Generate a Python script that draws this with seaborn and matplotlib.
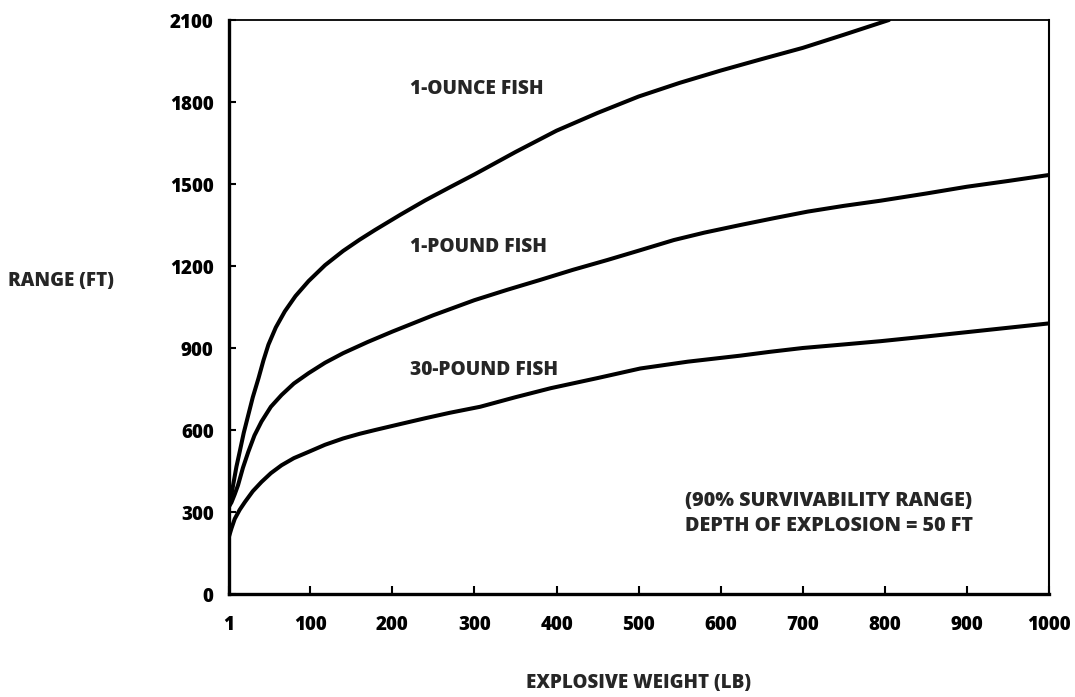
import matplotlib
matplotlib.use("Agg")
import matplotlib.pyplot as plt
import seaborn as sns
import pandas as pd

# ---- data ----
x_ounce = [1, 3, 6, 10, 14, 19, 24.5, 30, 37, 43, 49, 58, 69, 82, 98, 118, 140, 160, 179, 210, 240, 270,
           300, 350, 400, 450, 500, 550, 600, 650, 700, 750, 805]
y_ounce = [320, 345, 398, 465, 520, 590, 655, 720, 790, 855, 912, 975, 1034, 1090, 1145, 1203, 1255, 1296, 1332,
           1388, 1440, 1488, 1535, 1617, 1695, 1760, 1820, 1870, 1915, 1957, 1998, 2046, 2100]

x_pound = [1, 4, 8, 12, 18, 24.5, 32, 40.6, 52, 65, 80, 98, 118, 140, 170, 200, 250, 300, 340, 380, 420,
           462, 500, 543, 580, 624, 665, 706, 750, 795, 850, 900, 950, 1000]
y_pound = [320, 335, 365, 398, 462, 520, 580, 631, 685, 728, 770, 808, 846, 881, 922, 960, 1020, 1075, 1113, 1149,
           1186, 1222, 1256, 1295, 1322, 1350, 1375, 1399, 1420, 1439, 1465, 1490, 1511, 1533]

x_30lb = [1, 4, 8, 14, 20.5, 30, 40.6, 52, 65, 80, 98, 118, 140, 160, 179, 210, 240, 270, 307, 350, 393,
          450, 502, 560, 624, 660, 700, 750, 795, 850, 900, 950, 1000]
y_30lb = [210, 240, 275, 308, 337, 376, 410, 442, 471, 497, 520, 546, 569, 586, 600, 622, 643, 663, 685, 720, 753,
          790, 825, 850, 872, 886, 900, 913, 925, 942, 958, 974, 990]

x_ticks = [1, 100, 200, 300, 400, 500, 600, 700, 800, 900, 1000]
y_ticks = [0, 300, 600, 900, 1200, 1500, 1800, 2100]

series_labels = ["1-OUNCE FISH", "1-POUND FISH", "30-POUND FISH"]
note_lines = ["(90% SURVIVABILITY RANGE)", "DEPTH OF EXPLOSION = 50 FT"]
x_title = "EXPLOSIVE WEIGHT (LB)"
y_title = "RANGE (FT)"

sns.set_style("ticks")
plt.rcParams['font.family'] = ['Open Sans', 'DejaVu Sans']
W = 800  # extra-bold look

fig = plt.figure(figsize=(10.75, 6.97), dpi=100)
ax = fig.add_axes([229/1075, 1 - 594/697, (1049 - 229)/1075, (594 - 20)/697])

for xs, ys in [(x_ounce, y_ounce), (x_pound, y_pound), (x_30lb, y_30lb)]:
    df = pd.DataFrame({"x": xs, "y": ys})
    sns.lineplot(data=df, x="x", y="y", ax=ax, color="black", linewidth=2.9,
                 estimator=None, solid_capstyle="round", solid_joinstyle="round")

ax.set_xlim(1, 1000)
ax.set_ylim(0, 2100)
ax.set_xticks(x_ticks)
ax.set_yticks(y_ticks)
ax.set_xticklabels([str(v) for v in x_ticks], fontsize=13.5, fontweight=W)
ax.set_yticklabels([str(v) for v in y_ticks], fontsize=13.5, fontweight=W)
ax.tick_params(axis='x', direction='in', length=6, width=1.5, pad=15, colors='black')
ax.tick_params(axis='y', direction='in', length=5, width=1.5, pad=11, colors='black')
ax.set_xlabel("")
ax.set_ylabel("")

for side, lw in [("left", 2.4), ("bottom", 2.4), ("top", 1.3), ("right", 1.5)]:
    ax.spines[side].set_visible(True)
    ax.spines[side].set_linewidth(lw)
    ax.spines[side].set_color("black")

label_pos = [(222, 1848), (222, 1268), (222, 821)]
for txt, (lx, ly) in zip(series_labels, label_pos):
    ax.text(lx, ly, txt, fontsize=13.8, fontweight=W, ha='left', va='center')

ax.text(557, 340, note_lines[0], fontsize=14.2, fontweight=W, ha='left', va='center')
ax.text(557, 249, note_lines[1], fontsize=14.2, fontweight=W, ha='left', va='center')

fig.text(8/1075, 1 - 281/697, y_title, fontsize=13.5, fontweight=W, ha='left', va='center')
fig.text(639/1075, 1 - 683/697, x_title, fontsize=13.5, fontweight=W, ha='center', va='center')

fig.savefig("out.png", dpi=100, facecolor="white")
